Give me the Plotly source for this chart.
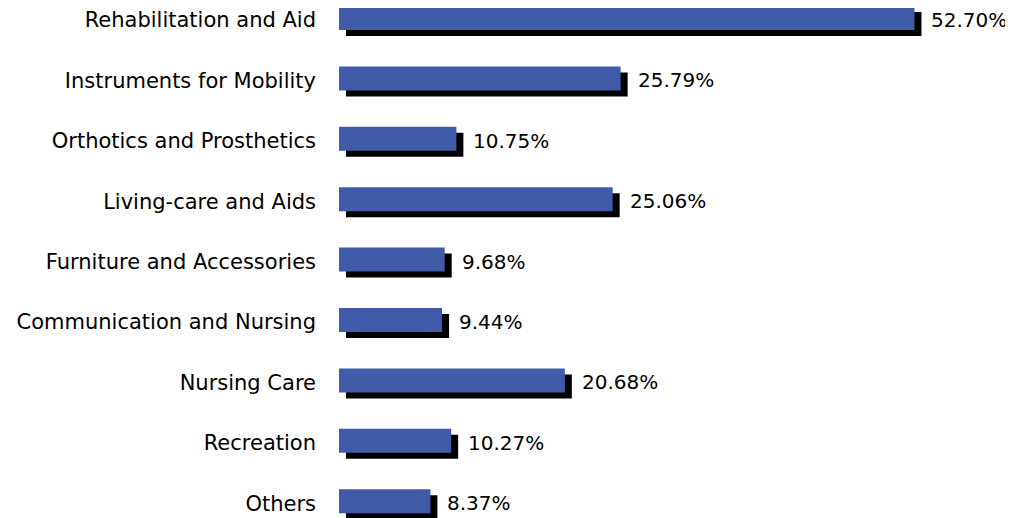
import plotly.graph_objects as go

categories = ["Rehabilitation and Aid", "Instruments for Mobility", "Orthotics and Prosthetics",
              "Living-care and Aids", "Furniture and Accessories", "Communication and Nursing",
              "Nursing Care", "Recreation", "Others"]
values = [52.70, 25.79, 10.75, 25.06, 9.68, 9.44, 20.68, 10.27, 8.37]
value_labels = ["52.70%", "25.79%", "10.75%", "25.06%", "9.68%", "9.44%", "20.68%", "10.27%", "8.37%"]

PAGE_OFF = 8  # default body margin of the html page
W, H = 1013 - PAGE_OFF, 518 - PAGE_OFF
ML = 339 - PAGE_OFF
PX_PER_UNIT_X = 10.92
PX_PER_ROW = 60.4
x_max = (W - ML) / PX_PER_UNIT_X
y_top = -(18 - PAGE_OFF) / PX_PER_ROW
y_bot = y_top + H / PX_PER_ROW

shadow_dx = 7 / PX_PER_UNIT_X
shadow_dy = 6 / PX_PER_ROW
bw = 24 / PX_PER_ROW

ypos = list(range(len(categories)))
FONT = "DejaVu Sans, Liberation Sans, Arial"

fig = go.Figure()
fig.add_trace(go.Bar(
    orientation="h", y=ypos, x=values, base=[shadow_dx] * len(values),
    width=bw, offset=-bw / 2 + shadow_dy,
    marker=dict(color="#000000", line=dict(width=0)), hoverinfo="skip", showlegend=False))
fig.add_trace(go.Bar(
    orientation="h", y=ypos, x=values,
    width=bw, offset=-bw / 2,
    marker=dict(color="#405CA8", line=dict(width=0)), showlegend=False))

for i, (v, t) in enumerate(zip(values, value_labels)):
    fig.add_annotation(x=v, y=i, text=t, xanchor="left", yanchor="middle",
                       xshift=15, yshift=-2, showarrow=False,
                       font=dict(family=FONT, size=20, color="#000000"))

fig.update_layout(
    width=W, height=H, barmode="overlay",
    margin=dict(l=ML, r=0, t=0, b=0),
    paper_bgcolor="white", plot_bgcolor="white",
    xaxis=dict(range=[0, x_max], visible=False, fixedrange=True),
    yaxis=dict(range=[y_bot, y_top], tickvals=ypos, ticktext=categories,
               showgrid=False, zeroline=False, showline=False, ticks="",
               ticklabelstandoff=22, ticklabeloverflow="allow",
               ticklabelshift=-2,
               tickfont=dict(family=FONT, size=21, color="#000000")),
)

fig.write_html("out.html")
